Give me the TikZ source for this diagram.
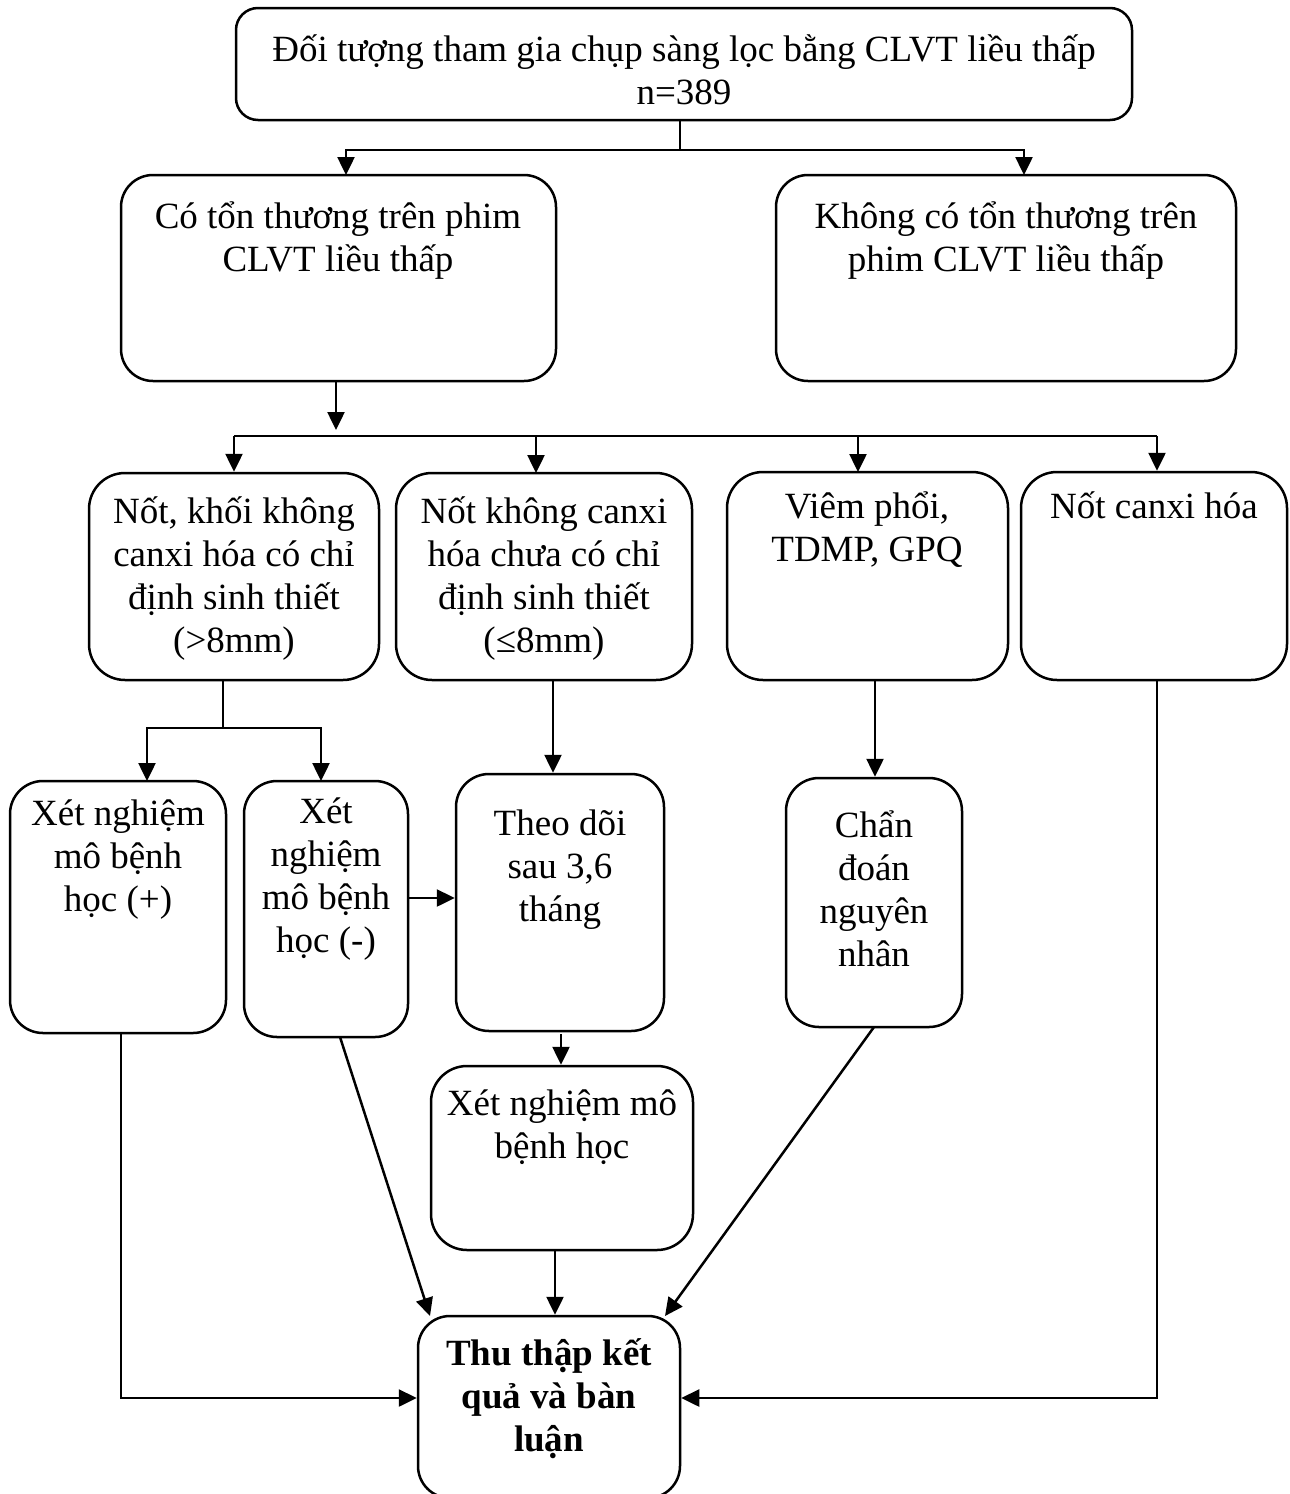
\documentclass[tikz,border=0pt]{standalone}
\usepackage{fontspec}
\setmainfont{Liberation Serif}
\usetikzlibrary{arrows.meta,calc}

% first-line strut: the text node's north edge sits 40pt above the first baseline
\newcommand\firstln{\rule{0pt}{40pt}}
% text fonts for the boxes
\newcommand\nfont{\fontsize{37}{43}\selectfont}
\newcommand\bnfont{\fontsize{37}{43}\selectfont\bfseries}
% rounded box from its corner coordinates: name, x1, y1, x2, y2, radius
\newcommand\flowbox[6]{%
  \node[box, rounded corners=#6, minimum width={(#4-#2)*1pt},
        minimum height={(#5-#3)*1pt}] (#1) at ({(#2+#4)/2},{(#3+#5)/2}) {};}

\begin{document}
\lineskiplimit=-1000pt
\begin{tikzpicture}[x=1pt, y=-1pt,
  box/.style={draw, line width=2.5pt, inner sep=0pt, shape=rectangle},
  txt/.style={inner sep=0pt, align=center, anchor=north, font=\nfont},
  btxt/.style={txt, font=\bnfont},
  link/.style={line width=2.5pt},
  arr/.style={line width=2.5pt, -{Triangle[width=17pt,length=18pt]}}]

\useasboundingbox (0,0) rectangle (1290,1494);
\fill[white] (0,0) rectangle (1290,1494);
\clip (0,0) rectangle (1290,1494);

% ---- boxes ----
\flowbox{top}{236}{8}{1132}{120}{22pt}
\flowbox{les}{121}{175}{556}{381}{32pt}
\flowbox{nol}{776}{175}{1236}{381}{32pt}
\flowbox{big}{89}{473}{379}{680}{36pt}
\flowbox{small}{396}{473}{692}{680}{36pt}
\flowbox{inf}{727}{472}{1008}{680}{36pt}
\flowbox{calc}{1021}{472}{1287}{680}{36pt}
\flowbox{pos}{10}{781}{226}{1033}{33pt}
\flowbox{neg}{244}{781}{408}{1037}{33pt}
\flowbox{fup}{456}{774}{664}{1031}{33pt}
\flowbox{diag}{786}{778}{962}{1027}{33pt}
\flowbox{histo}{431}{1066}{693}{1250}{36pt}
\flowbox{res}{418}{1316}{680}{1498}{32pt}

% ---- texts ----
\node[txt] (top-t) at (684,21) {\firstln Đối tượng tham gia chụp sàng lọc bằng CLVT liều thấp\\n=389};
\node[txt] (les-t) at (338,188) {\firstln Có tổn thương trên phim\\CLVT liều thấp};
\node[txt] (nol-t) at (1006,188) {\firstln Không có tổn thương trên\\phim CLVT liều thấp};
\node[txt] (big-t) at (234,483) {\firstln Nốt, khối không\\canxi hóa có chỉ\\định sinh thiết\\(>8mm)};
\node[txt] (small-t) at (544,483) {\firstln Nốt không canxi\\hóa chưa có chỉ\\định sinh thiết\\(≤8mm)};
\node[txt] (inf-t) at (867,478) {\firstln Viêm phổi,\\TDMP, GPQ};
\node[txt] (calc-t) at (1154,478) {\firstln Nốt canxi hóa};
\node[txt] (pos-t) at (118,785) {\firstln Xét nghiệm\\mô bệnh\\học (+)};
\node[txt] (neg-t) at (326,783) {\firstln Xét\\nghiệm\\mô bệnh\\học (-)};
\node[txt] (fup-t) at (560,795) {\firstln Theo dõi\\sau 3,6\\tháng};
\node[txt] (diag-t) at (874,797) {\firstln Chẩn\\đoán\\nguyên\\nhân};
\node[txt] (histo-t) at (562,1075) {\firstln Xét nghiệm mô\\bệnh học};
\node[btxt] (res-t) at (549,1325) {\firstln Thu thập kết\\quả và bàn\\luận};

% ---- junction points ----
\coordinate (j-top) at (680,150);
\coordinate (les-in) at (346,175);
\coordinate (nol-in) at (1024,175);
\coordinate (bus-l) at (234,436);
\coordinate (bus-r) at (1157,436);
\coordinate (bus-tip) at (336,430);
\coordinate (small-in) at (536,473);
\coordinate (inf-in) at (858,472);
\coordinate (j-big) at (223,728);
\coordinate (pos-in) at (147,781);
\coordinate (neg-in) at (321,781);
\coordinate (pos-out) at (121,1033);
\coordinate (calc-out) at (1157,680);
\coordinate (neg-out) at (340,1037);
\coordinate (diag-out) at (874,1027);
\coordinate (fup-x) at (553,0);
\coordinate (diag-x) at (875,0);
\coordinate (neg-y) at (0,898);
\coordinate (histo-x) at (561,0);
\coordinate (res-x) at (555,0);
\coordinate (res-y) at (0,1398);
\coordinate (res-l) at (430,1316);
\coordinate (res-r) at (665,1316);

% ---- connectors ----
\draw[link] (top.south -| j-top) -- (j-top);
\draw[arr] (j-top) -| (les-in);
\draw[arr] (j-top) -| (nol-in);

\draw[arr] (les.south -| bus-tip) -- (bus-tip);
\draw[link] (bus-l) -- (bus-r);
\draw[arr] (bus-l) -- (big.north -| bus-l);
\draw[arr] (bus-l -| small-in) -- (small-in);
\draw[arr] (bus-l -| inf-in) -- (inf-in);
\draw[arr] (bus-r) -- (calc.north -| bus-r);

\draw[link] (big.south -| j-big) -- (j-big);
\draw[arr] (j-big) -| (pos-in);
\draw[arr] (j-big) -| (neg-in);

\draw[arr] (small.south -| fup-x) -- (fup.north -| fup-x);
\draw[arr] (inf.south -| diag-x) -- (diag.north -| diag-x);
\draw[arr] (neg.east |- neg-y) -- (fup.west |- neg-y);
\draw[arr] ($(fup.south -| histo-x)+(0,2)$) -- (histo.north -| histo-x);
\draw[arr] (histo.south -| res-x) -- (res.north -| res-x);

\draw[arr] (pos-out) |- (res.west |- res-y);
\draw[arr] (calc-out) |- (res.east |- res-y);
\draw[arr] (neg-out) -- (res-l);
\draw[arr] (diag-out) -- (res-r);
\end{tikzpicture}
\end{document}
